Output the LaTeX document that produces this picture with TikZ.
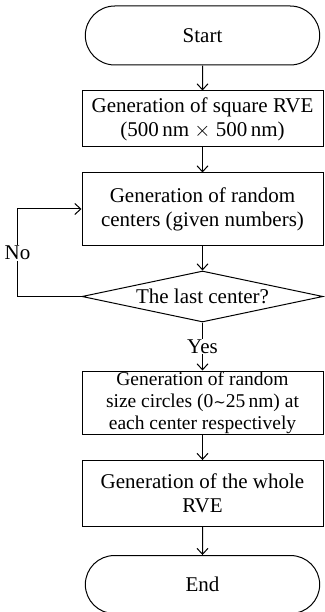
\documentclass[tikz,border=0pt]{standalone}
\usepackage{fontspec}
\setmainfont{Liberation Serif}
\newfontfamily\tildefont{DejaVu Serif}
\usetikzlibrary{arrows.meta,positioning,shapes.geometric,shapes.misc}

\begin{document}
\begin{tikzpicture}[x=1pt, y=1pt, node distance=25pt,
            every node/.style={font=\fontsize{21}{24}\selectfont, align=center},
            box/.style={draw, line width=1pt, rectangle, minimum width=241pt, inner sep=2pt},
            term/.style={draw, line width=1pt, rounded rectangle, minimum width=241pt, minimum height=59pt},
            decide/.style={draw, line width=1pt, diamond, aspect=4.7, inner sep=0pt,
                           minimum width=241pt, minimum height=51pt},
            flow/.style={line width=1pt, -{Straight Barb[length=6pt,width=11pt]}}]
        \useasboundingbox (0,0) rectangle (324,-612);

        \node[term] (start) at (202.5,-35.5) {Start};
        \node[box, minimum height=56pt, below=of start] (square)
            {Generation of square RVE\\(500\,nm $\times$ 500\,nm)};
        \node[box, minimum height=72pt, below=of square] (centers)
            {Generation of random\\centers (given numbers)};
        \node[decide, below=of centers] (last) {The last center?};
        \node[box, minimum height=63pt, below=48pt of last, inner sep=1pt,
              font=\fontsize{19.5}{21.8}\selectfont] (circles)
            {Generation of random\\size circles (0{\tildefont\fontsize{15}{15}\selectfont ∼}25\,nm) at\\each center respectively};
        \node[box, minimum height=66pt, below=25pt of circles] (whole)
            {Generation of the whole\\RVE};
        \node[term, minimum height=58pt, below=28pt of whole] (end) {End};

        \draw[flow] (start) -- (square);
        \draw[flow] (square) -- (centers);
        \draw[flow] (centers) -- (last);
        \draw[flow] (last) -- node[fill=white, inner sep=1pt] {Yes} (circles);
        \draw[flow] (circles) -- (whole);
        \draw[flow] (whole) -- (end);

        % loop back when not done
        \draw[flow] (last.west) -| node[pos=0.75, fill=white, inner sep=1pt] {No}
            ([xshift=-64pt]centers.west) -- (centers.west);
\end{tikzpicture}
\end{document}
